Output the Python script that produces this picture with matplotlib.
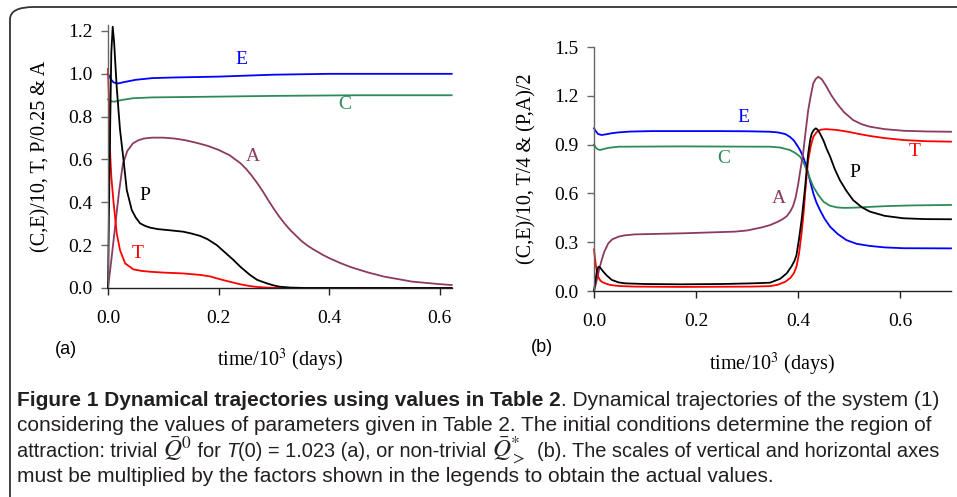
import matplotlib
matplotlib.use("Agg")
import matplotlib.pyplot as plt
from matplotlib.patches import FancyBboxPatch

plt.rcParams["mathtext.fontset"] = "stix"

BLUE = "#0000ff"
GREEN = "#2e8b57"
PURPLE = "#8b3a62"
RED = "#ff0000"
BLACK = "#000000"

# ---- panel (a): trivial equilibrium, T(0) = 1.023
a_E_t = [0, 0.005, 0.01, 0.018, 0.03, 0.05, 0.08, 0.12, 0.2, 0.3, 0.4, 0.5, 0.622]
a_E = [1.0, 0.975, 0.96, 0.955, 0.962, 0.972, 0.98, 0.983, 0.987, 0.996, 1.0, 1.0, 1.0]

a_C_t = [0, 0.005, 0.012, 0.025, 0.045, 0.08, 0.15, 0.3, 0.45, 0.622]
a_C = [0.88, 0.872, 0.87, 0.878, 0.886, 0.89, 0.892, 0.897, 0.9, 0.9]

a_A_t = [0, 0.006, 0.013, 0.02, 0.027, 0.035, 0.045, 0.055, 0.065, 0.08, 0.1,
         0.12, 0.14, 0.16, 0.18, 0.2, 0.22, 0.24, 0.25, 0.26, 0.27, 0.28, 0.29,
         0.3, 0.31, 0.32, 0.33, 0.34, 0.35, 0.36, 0.37, 0.38, 0.39, 0.4, 0.42,
         0.44, 0.47, 0.5, 0.55, 0.6, 0.622]
a_A = [0, 0.13, 0.29, 0.45, 0.58, 0.64, 0.675, 0.69, 0.698, 0.702, 0.702,
       0.698, 0.69, 0.678, 0.664, 0.645, 0.62, 0.582, 0.556, 0.525, 0.49, 0.452, 0.41,
       0.37, 0.333, 0.30, 0.27, 0.245, 0.22, 0.2, 0.183, 0.168, 0.153, 0.14, 0.117,
       0.097, 0.073, 0.053, 0.03, 0.018, 0.014]

a_P_t = [0, 0.003, 0.006, 0.0085, 0.011, 0.0157, 0.0217, 0.028, 0.034, 0.043,
         0.05, 0.058, 0.067, 0.076, 0.09, 0.11, 0.136, 0.15, 0.167, 0.18, 0.197, 0.21,
         0.227, 0.24, 0.257, 0.27, 0.287, 0.3, 0.311, 0.33, 0.36, 0.622]
a_P = [0, 0.6, 1.1, 1.22, 1.15, 0.94, 0.74, 0.6, 0.457, 0.364,
       0.33, 0.302, 0.29, 0.282, 0.275, 0.27, 0.263, 0.255, 0.243, 0.228, 0.2, 0.17,
       0.131, 0.098, 0.061, 0.038, 0.022, 0.012, 0.006, 0.002, 0.0, 0.0]

a_T_t = [0, 0.0015, 0.0036, 0.006, 0.0097, 0.0157, 0.0217, 0.031, 0.046, 0.06,
         0.076, 0.1, 0.136, 0.167, 0.185, 0.197, 0.21, 0.227, 0.24, 0.257, 0.27,
         0.287, 0.31, 0.622]
a_T = [1.023, 0.9, 0.644, 0.52, 0.41, 0.257, 0.177, 0.115, 0.087, 0.08,
       0.076, 0.072, 0.068, 0.061, 0.054, 0.045, 0.036, 0.025, 0.017, 0.009, 0.005,
       0.002, 0.0, 0.0]

# ---- panel (b): non-trivial equilibrium
b_E_t = [0, 0.004, 0.008, 0.015, 0.025, 0.035, 0.048, 0.07, 0.113, 0.243, 0.3,
         0.345, 0.36, 0.375, 0.384, 0.392, 0.4, 0.405, 0.41, 0.415, 0.42, 0.425,
         0.43, 0.436, 0.443, 0.452, 0.463, 0.478, 0.495, 0.515, 0.541, 0.57,
         0.607, 0.7]
b_E = [1.0, 0.98, 0.965, 0.959, 0.964, 0.97, 0.975, 0.98, 0.983, 0.983, 0.982,
       0.979, 0.975, 0.965, 0.948, 0.925, 0.887, 0.86, 0.826, 0.78, 0.723, 0.66,
       0.6, 0.545, 0.498, 0.445, 0.395, 0.35, 0.313, 0.29, 0.277, 0.268,
       0.263, 0.262]

b_C_t = [0, 0.004, 0.008, 0.012, 0.018, 0.028, 0.048, 0.17, 0.345, 0.365, 0.384,
         0.395, 0.404, 0.41, 0.417, 0.423, 0.43, 0.44, 0.45, 0.462, 0.476, 0.49,
         0.508, 0.54, 0.574, 0.62, 0.7]
b_C = [0.9, 0.88, 0.87, 0.867, 0.872, 0.88, 0.887, 0.889, 0.887, 0.882, 0.867,
       0.848, 0.826, 0.795, 0.744, 0.695, 0.641, 0.59, 0.549, 0.525, 0.514, 0.511,
       0.512, 0.517, 0.522, 0.526, 0.529]

b_A_t = [0, 0.005, 0.01, 0.015, 0.02, 0.028, 0.036, 0.048, 0.06, 0.08, 0.178,
         0.276, 0.3, 0.329, 0.345, 0.36, 0.37, 0.378, 0.385, 0.39, 0.395, 0.4,
         0.405, 0.41, 0.415, 0.42, 0.425, 0.43, 0.435, 0.44, 0.447, 0.456, 0.465,
         0.476, 0.49, 0.508, 0.525, 0.541, 0.57, 0.607, 0.65, 0.7]
b_A = [0, 0.06, 0.13, 0.19, 0.24, 0.293, 0.318, 0.334, 0.342, 0.348, 0.355,
       0.365, 0.372, 0.391, 0.405, 0.425, 0.442, 0.46, 0.49, 0.52, 0.57, 0.65,
       0.75, 0.846, 0.98, 1.112, 1.2, 1.277, 1.305, 1.317, 1.3, 1.256, 1.205,
       1.154, 1.1, 1.051, 1.025, 1.01, 0.995, 0.985, 0.981, 0.979]

b_T_t = [0, 0.002, 0.004, 0.006, 0.008, 0.012, 0.016, 0.022, 0.032, 0.048, 0.08,
         0.17, 0.309, 0.345, 0.36, 0.375, 0.385, 0.392, 0.397, 0.402, 0.407,
         0.411, 0.414, 0.417, 0.42, 0.425, 0.43, 0.437, 0.445, 0.455, 0.476, 0.5,
         0.52, 0.541, 0.57, 0.607, 0.65, 0.7]
b_T = [0.256, 0.2, 0.15, 0.115, 0.088, 0.066, 0.055, 0.047, 0.037, 0.031, 0.027,
       0.025, 0.027, 0.03, 0.038, 0.057, 0.08, 0.11, 0.15, 0.23, 0.355,
       0.48, 0.6, 0.71, 0.805, 0.89, 0.948, 0.978, 0.992, 0.995, 0.99, 0.978,
       0.965, 0.953, 0.94, 0.928, 0.921, 0.918]

b_P_t = [0, 0.003, 0.006, 0.009, 0.013, 0.018, 0.025, 0.035, 0.048, 0.061, 0.1,
         0.17, 0.25, 0.309, 0.345, 0.365, 0.378, 0.387, 0.393, 0.397, 0.402,
         0.407, 0.411, 0.414, 0.417, 0.42, 0.424, 0.427, 0.431, 0.435, 0.439,
         0.443, 0.45, 0.456, 0.463, 0.472, 0.482, 0.495, 0.508, 0.525, 0.541,
         0.57, 0.607, 0.65, 0.7]
b_P = [0, 0.07, 0.13, 0.15, 0.14, 0.12, 0.095, 0.068, 0.053, 0.047, 0.043,
       0.041, 0.043, 0.047, 0.051, 0.075, 0.109, 0.15, 0.185, 0.22, 0.32,
       0.436, 0.55, 0.641, 0.745, 0.846, 0.93, 0.969, 0.99, 1.0, 0.99,
       0.969, 0.925, 0.875, 0.826, 0.75, 0.682, 0.615, 0.559, 0.515, 0.488,
       0.462, 0.447, 0.442, 0.441]

a_ticks_x = [0.0, 0.2, 0.4, 0.6]
a_ticks_y = [0.0, 0.2, 0.4, 0.6, 0.8, 1.0, 1.2]
b_ticks_x = [0.0, 0.2, 0.4, 0.6]
b_ticks_y = [0.0, 0.3, 0.6, 0.9, 1.2, 1.5]

SERIF = ["Liberation Serif", "DejaVu Serif"]
SANS = ["Liberation Sans", "DejaVu Sans"]


def style_axes(ax, xticks, yticks, xmax, ymax):
    ax.set_xlim(0, xmax)
    ax.set_ylim(0, ymax)
    ax.set_xticks(xticks)
    ax.set_yticks(yticks)
    ax.set_xticklabels(["%.1f" % v for v in xticks])
    ax.set_yticklabels(["%.1f" % v for v in yticks])
    for s in ("top", "right"):
        ax.spines[s].set_visible(False)
    ax.spines["left"].set_color("#666666")
    ax.spines["bottom"].set_color("#222222")
    ax.spines["left"].set_linewidth(1.0)
    ax.spines["bottom"].set_linewidth(1.0)
    ax.tick_params(axis="x", direction="out", length=5, width=1.0, color="#222222", pad=11)
    ax.tick_params(axis="y", direction="out", length=5, width=1.0, color="#666666", pad=6)
    for lab in ax.get_xticklabels() + ax.get_yticklabels():
        lab.set_fontfamily(SERIF)
        lab.set_fontsize(14)


fig = plt.figure(figsize=(9.57, 4.97), dpi=100)

lw = 1.3

# panel (a)
ax1 = fig.add_axes([108 / 957, 209 / 497, 344 / 957, 263 / 497])
ax1.plot(a_E_t, a_E, color=BLUE, lw=lw, clip_on=False)
ax1.plot(a_C_t, a_C, color=GREEN, lw=lw, clip_on=False)
ax1.plot(a_A_t, a_A, color=PURPLE, lw=lw, clip_on=False)
ax1.plot(a_T_t, a_T, color=RED, lw=lw, clip_on=False)
ax1.plot(a_P_t, a_P, color=BLACK, lw=lw, clip_on=False)
style_axes(ax1, a_ticks_x, a_ticks_y, 0.6226, 1.228)
ax1.text(0.241, 1.069, "E", color=BLUE, fontsize=14, family=SERIF, ha="center", va="center")
ax1.text(0.429, 0.859, "C", color=GREEN, fontsize=14, family=SERIF, ha="center", va="center")
ax1.text(0.263, 0.616, "A", color=PURPLE, fontsize=14, family=SERIF, ha="center", va="center")
ax1.text(0.067, 0.434, "P", color=BLACK, fontsize=14, family=SERIF, ha="center", va="center")
ax1.text(0.053, 0.159, "T", color=RED, fontsize=14, family=SERIF, ha="center", va="center")
ax1.set_ylabel("(C,E)/10, T, P/0.25 & A", fontsize=14.5, family=SERIF, labelpad=13)
ax1.set_xlabel(r"time/10$^{3}$ (days)", fontsize=14.5, family=SERIF, labelpad=14)

# panel (b)
ax2 = fig.add_axes([594 / 957, 206 / 497, 357 / 957, 244 / 497])
ax2.plot(b_E_t, b_E, color=BLUE, lw=lw, clip_on=False)
ax2.plot(b_C_t, b_C, color=GREEN, lw=lw, clip_on=False)
ax2.plot(b_A_t, b_A, color=PURPLE, lw=lw, clip_on=False)
ax2.plot(b_T_t, b_T, color=RED, lw=lw, clip_on=False)
ax2.plot(b_P_t, b_P, color=BLACK, lw=lw, clip_on=False)
style_axes(ax2, b_ticks_x, b_ticks_y, 0.7, 1.5)
ax2.text(0.292, 1.069, "E", color=BLUE, fontsize=14, family=SERIF, ha="center", va="center")
ax2.text(0.255, 0.817, "C", color=GREEN, fontsize=14, family=SERIF, ha="center", va="center")
ax2.text(0.363, 0.571, "A", color=PURPLE, fontsize=14, family=SERIF, ha="center", va="center")
ax2.text(0.629, 0.855, "T", color=RED, fontsize=14, family=SERIF, ha="center", va="center")
ax2.text(0.512, 0.731, "P", color=BLACK, fontsize=14, family=SERIF, ha="center", va="center")
ax2.set_ylabel("(C,E)/10, T/4 & (P,A)/2", fontsize=14.5, family=SERIF, labelpad=13)
ax2.set_xlabel(r"time/10$^{3}$ (days)", fontsize=14.5, family=SERIF, labelpad=15)

# panel tags
fig.text(55 / 957, 1 - 350 / 497, "(a)", fontsize=13, family=SANS, va="center", ha="left")
fig.text(531 / 957, 1 - 348 / 497, "(b)", fontsize=13, family=SANS, va="center", ha="left")

# rounded frame, right and bottom run off the image
frame = FancyBboxPatch((10 / 957, -0.2), 1.2, 1 - 7 / 497 + 0.2,
                       boxstyle="round,pad=0,rounding_size=0.025",
                       transform=fig.transFigure, fill=False,
                       edgecolor="#333333", lw=1.3, clip_on=False)
fig.add_artist(frame)

# caption, drawn piece by piece so bold, italic and math can share a line
renderer = fig.canvas.get_renderer()
CAP = 15


def caption_line(y_px, pieces, x_px=17, size=CAP):
    x = x_px / 957
    y = 1 - y_px / 497
    for txt, kw in pieces:
        opts = dict(fontsize=size, family=SANS, color="#231f20", va="baseline", ha="left")
        opts.update(kw)
        t = fig.text(x, y, txt, **opts)
        bb = t.get_window_extent(renderer=renderer)
        x += bb.width / 957


caption_line(406, [("Figure 1 Dynamical trajectories using values in Table 2", {"weight": "bold"}),
                   (". Dynamical trajectories of the system (1)", {})])
caption_line(431, [("considering the values of parameters given in Table 2. The initial conditions "
                    "determine the region of", {})])
caption_line(457, [("attraction: trivial ", {}),
                   (r"$\bar{Q}^{0}$", {"fontsize": 18}),
                   (" for ", {}),
                   ("T", {"style": "italic"}),
                   ("(0) = 1.023 (a), or non-trivial ", {}),
                   (r"$\bar{Q}^{*}_{>}$", {"fontsize": 18}),
                   ("  (b). The scales of vertical and horizontal axes", {})], size=14.4)
caption_line(482, [("must be multiplied by the factors shown in the legends to obtain the actual values.", {})])

fig.savefig("out.png", dpi=100)
